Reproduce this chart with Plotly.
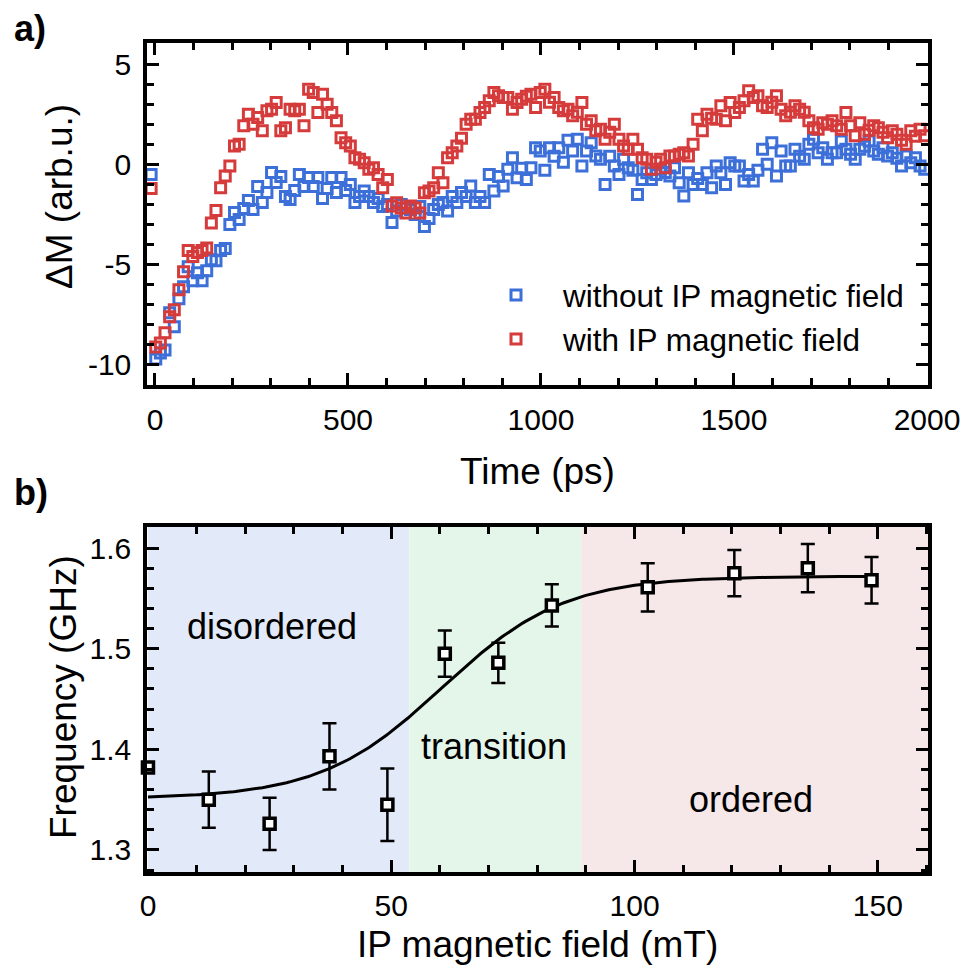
import numpy as np
import plotly.graph_objects as go

# ---------------- panel a: time-resolved magnetisation ----------------
time_ps = list(range(-10, 2000, 12))

dm_without_field = [
    -0.5, -9.7, -9.4, -9.25, -7.4, -8.1, -6.7, -6.1, -5.1, -5.8,
    -5.4, -5.8, -5.3, -4.75, -4.8, -4.3, -4.2, -3.0, -2.4, -2.75,
    -2.2, -1.8, -2.25, -1.1, -1.9, -1.4, -0.4, -0.9, -0.6, -1.6,
    -1.75, -1.3, -0.5, -1.1, -0.65, -1.1, -0.65, -1.7, -1.2, -0.65,
    -1.4, -0.65, -1.3, -1.0, -1.9, -1.6, -1.33, -1.6, -1.9, -1.7,
    -2.1, -2.0, -2.9, -2.33, -2.0, -2.17, -2.25, -2.5, -2.1, -3.1,
    -2.7, -2.25, -2.0, -1.9, -2.33, -1.6, -1.9, -1.4, -1.6, -1.08,
    -1.9, -1.6, -1.9, -0.5, -1.33, -0.6, -1.08, -0.25, 0.33, -0.67,
    -0.2, -0.75, -0.17, 0.83, 0.67, -0.3, 0.83, 0.4, 0.83, 0.1,
    1.2, 0.67, 1.25, -0.08, 0.67, 1.08, 0.42, 0.25, -1.0, 0.4,
    -0.08, -0.5, 0.25, -0.17, -0.3, -1.5, -0.75, -0.42, -0.75, -0.5,
    -0.25, -0.4, -0.58, -0.17, -0.92, -1.58, -0.42, -1.0, -0.7, -1.0,
    -0.42, -1.17, -0.08, -0.42, -1.0, 0.08, -0.08, -0.08, -0.83, -0.5,
    -0.83, -0.3, 0.75, 0.0, 1.08, -0.58, 0.67, -0.08, -0.08, 0.75,
    0.4, 0.25, 1.0, 1.25, 0.58, 0.83, 0.25, 0.58, 0.58, 1.17,
    0.75, 0.5, 0.25, 0.75, 0.9, 1.17, 0.67, 0.5, 0.83, 0.42,
    0.58, 0.3, -0.08, 0.42, 0.08, 0.33, -0.08, -0.25,
]

dm_with_field = [
    -1.2, -9.1, -8.9, -8.4, -7.6, -7.25, -6.25, -5.35, -4.3, -4.6,
    -4.4, -4.3, -4.17, -2.92, -2.3, -1.17, -0.58, -0.08, 0.92, 1.0,
    1.92, 2.5, 2.0, 2.33, 1.67, 2.67, 2.75, 3.08, 1.67, 1.83,
    2.75, 2.67, 2.75, 1.92, 3.75, 3.58, 2.58, 3.5, 3.0, 2.58,
    2.17, 1.33, 1.08, 0.92, 0.33, 0.25, 0.08, -0.25, -0.17, -0.5,
    -1.17, -0.75, -2.08, -1.92, -2.17, -2.42, -2.08, -2.17, -2.42, -1.42,
    -1.33, -1.17, -0.42, -0.92, 0.33, 0.58, 0.92, 1.3, 2.0, 2.25,
    2.25, 2.58, 2.83, 3.17, 3.58, 3.42, 3.33, 3.33, 2.75, 3.08,
    3.25, 3.4, 3.5, 2.83, 3.58, 3.75, 3.1, 3.33, 2.83, 2.67,
    2.75, 2.42, 2.6, 3.08, 2.0, 2.17, 1.67, 1.75, 1.25, 1.6,
    2.0, 1.25, 0.92, 0.75, 1.25, 0.75, 0.33, 0.25, -0.25, 0.1,
    0.25, -0.17, 0.42, 0.42, 0.5, 0.58, 0.42, 1.0, 2.25, 1.67,
    2.5, 2.3, 2.25, 2.92, 2.17, 3.08, 2.58, 2.83, 3.17, 3.67,
    3.33, 3.42, 2.92, 2.83, 3.1, 3.42, 2.75, 2.42, 2.6, 2.92,
    2.75, 2.6, 2.17, 1.83, 1.75, 2.08, 2.0, 2.17, 1.92, 1.75,
    2.58, 1.92, 1.42, 2.08, 1.5, 1.7, 1.92, 1.83, 1.6, 1.33,
    1.67, 1.5, 1.2, 1.0, 1.67, 1.4, 1.75, 1.42,
]

# ---------------- panel b: frequency vs in-plane field ----------------
field_mT = [0, 12.5, 25, 37.3, 49.2, 61, 72, 83, 102.7, 120.5, 135.6, 148.7]
freq_GHz = [1.382, 1.350, 1.326, 1.393, 1.345, 1.495, 1.486, 1.543, 1.561, 1.575, 1.580, 1.568]
freq_err = [0.0, 0.028, 0.026, 0.033, 0.036, 0.023, 0.020, 0.021, 0.024, 0.023, 0.024, 0.023]

# Boltzmann (sigmoidal) fit parameters
fit_A1, fit_A2, fit_x0, fit_dx = 1.351, 1.572, 60.5, 12.5

# phase regions (mT) and their labels
region_edges = [0, 53.7, 89.05, 160.3]
region_colors = ["#e2e9f8", "#e4f5ea", "#f6e7e8"]
region_names = ["disordered", "transition", "ordered"]
region_label_x = [25.5, 71.2, 124.0]
region_label_y = [1.522, 1.403, 1.350]

FONT = "Liberation Sans, Arial, sans-serif"
BLUE = "#3d6fd9"
RED = "#d63b3b"
W, H = 964, 969

fig = go.Figure()

fig.add_trace(go.Scatter(
    x=time_ps, y=dm_without_field, mode="markers",
    name="without IP magnetic field", cliponaxis=False,
    marker=dict(symbol="square-open", size=10, color=BLUE, line=dict(width=3, color=BLUE)),
    xaxis="x", yaxis="y",
))
fig.add_trace(go.Scatter(
    x=time_ps, y=dm_with_field, mode="markers",
    name="with IP magnetic field", cliponaxis=False,
    marker=dict(symbol="square-open", size=10, color=RED, line=dict(width=3, color=RED)),
    xaxis="x", yaxis="y",
))

fit_x = np.linspace(0, 150, 301)
fit_y = fit_A1 + (fit_A2 - fit_A1) / (1 + np.exp(-(fit_x - fit_x0) / fit_dx))
fig.add_trace(go.Scatter(
    x=fit_x, y=fit_y, mode="lines", line=dict(color="black", width=3),
    showlegend=False, xaxis="x2", yaxis="y2", hoverinfo="skip",
))
fig.add_trace(go.Scatter(
    x=field_mT, y=freq_GHz, mode="markers", cliponaxis=False,
    marker=dict(symbol="square", size=11, color="white", line=dict(width=3.5, color="black")),
    error_y=dict(type="data", array=freq_err, visible=True, color="black", thickness=2.5, width=7),
    showlegend=False, xaxis="x2", yaxis="y2",
))

shapes = []
for i, c in enumerate(region_colors):
    shapes.append(dict(
        type="rect", xref="x2", yref="y2 domain",
        x0=region_edges[i], x1=region_edges[i + 1], y0=0, y1=1,
        fillcolor=c, line=dict(width=0), layer="below",
    ))

annotations = []
for name, lx, ly in zip(region_names, region_label_x, region_label_y):
    annotations.append(dict(
        text=name, x=lx, y=ly, xref="x2", yref="y2", showarrow=False,
        font=dict(family=FONT, size=36, color="black"),
    ))

# panel letters
for lbl, py in [("a)", 28), ("b)", 492)]:
    annotations.append(dict(
        text="<b>%s</b>" % lbl, x=12 / W, y=1 - py / H, xref="paper", yref="paper",
        xanchor="left", yanchor="middle", showarrow=False,
        font=dict(family=FONT, size=36, color="black"),
    ))

# axis titles
title_font = dict(family=FONT, size=37, color="black")
axis_titles = [
    ("Time (ps)", 537.5, 471, 0),
    ("IP magnetic field (mT)", 537.5, 944, 0),
    ("ΔM (arb.u.)", 60, 197, -90),
    ("Frequency (GHz)", 63, 697, -90),
]
for txt, px, py, ang in axis_titles:
    annotations.append(dict(
        text=txt, x=px / W, y=1 - py / H, xref="paper", yref="paper",
        xanchor="center", yanchor="middle", textangle=ang, showarrow=False,
        font=title_font,
    ))

axis_common = dict(
    showline=True, linewidth=3.5, linecolor="black", mirror="allticks",
    ticks="inside", ticklen=12, tickwidth=3, tickcolor="black",
    showgrid=False, zeroline=False, automargin=False,
    tickfont=dict(family=FONT, size=30, color="black"),
    minor=dict(ticks="inside", ticklen=7, tickwidth=2.5, tickcolor="black", showgrid=False),
)

x_dom = [147 / W, 928 / W]

fig.update_layout(
    width=W, height=H,
    margin=dict(l=0, r=0, t=0, b=0, autoexpand=False),
    paper_bgcolor="white", plot_bgcolor="rgba(0,0,0,0)",
    font=dict(family=FONT, color="black"),
    showlegend=True,
    legend=dict(
        x=469 / W, y=1 - 317 / H, xanchor="left", yanchor="middle",
        bgcolor="rgba(0,0,0,0)", borderwidth=0,
        font=dict(family=FONT, size=31.5, color="black"),
        itemwidth=84, tracegroupgap=0,
    ),
    xaxis=dict(
        axis_common, domain=x_dom, anchor="y", range=[-20.7, 2002.6],
        tickvals=[0, 500, 1000, 1500, 2000], minor_dtick=100, minor_tick0=0,
        ticklabelstandoff=5,
    ),
    yaxis=dict(
        axis_common, domain=[1 - 385 / H, 1 - 43 / H], anchor="x", range=[-11.0, 6.05],
        tickvals=[-10, -5, 0, 5], ticktext=["-10", "-5", "0", "5"],
        minor_dtick=1, minor_tick0=0, ticklabelstandoff=6,
    ),
    xaxis2=dict(
        axis_common, domain=x_dom, anchor="y2", range=[-0.2, 160.3],
        tickvals=[0, 50, 100, 150], minor_dtick=10, minor_tick0=0,
        ticklabelstandoff=4,
    ),
    yaxis2=dict(
        axis_common, domain=[1 - 872 / H, 1 - 527 / H], anchor="x2", range=[1.2781, 1.6209],
        tickvals=[1.3, 1.4, 1.5, 1.6], ticktext=["1.3", "1.4", "1.5", "1.6"],
        minor_dtick=0.02, minor_tick0=1.3, ticklabelstandoff=6,
    ),
    shapes=shapes,
    annotations=annotations,
)

fig.write_html("out.html")
